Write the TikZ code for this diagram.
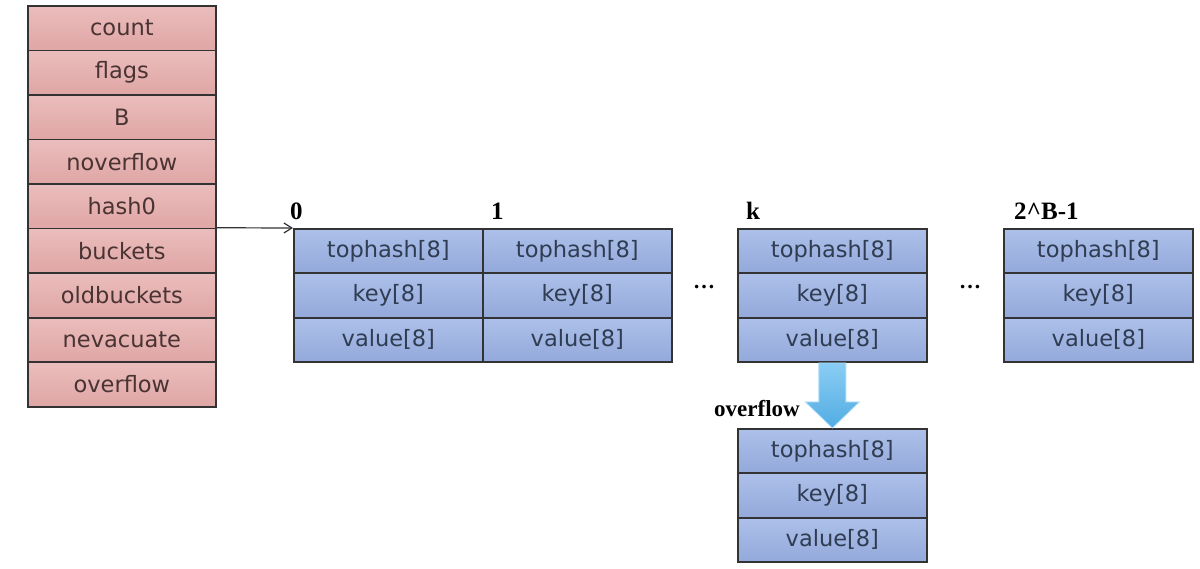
\documentclass[tikz,border=0pt]{standalone}
\usepackage{fontspec}
\setmainfont{DejaVu Sans}
\newfontfamily\lblfont{Liberation Serif}
\usetikzlibrary{arrows.meta,calc}
\definecolor{pinktop}{HTML}{EABDBC}
\definecolor{pinkbot}{HTML}{DFA6A5}
\definecolor{bluetop}{HTML}{ADC0EA}
\definecolor{bluebot}{HTML}{93A9DA}
\definecolor{pinktext}{HTML}{4A3333}
\definecolor{bluetext}{HTML}{2F3C52}
\definecolor{edge}{HTML}{333333}
\definecolor{arrowtop}{HTML}{8ACDF3}
\definecolor{arrowbot}{HTML}{52ACE3}
\begin{document}
\begin{tikzpicture}[x=1pt,y=-1pt,
  cell/.style={draw=edge, line width=1.7pt, inner sep=0pt, anchor=north west,
    font=\fontsize{22.5}{26}\selectfont},
  pcell/.style={cell, minimum width=188pt, minimum height=44.55pt,
    top color=pinktop, bottom color=pinkbot, text=pinktext},
  bcell/.style={cell, minimum width=189pt, minimum height=44.4pt,
    top color=bluetop, bottom color=bluebot, text=bluetext},
  idx/.style={font=\lblfont\bfseries\fontsize{25}{29}\selectfont, anchor=south west, inner sep=0pt},
  dots/.style={font=\lblfont\bfseries\fontsize{22}{26}\selectfont, inner sep=0pt}]
\useasboundingbox (0,0) rectangle (1200,568);
% header struct
\foreach \t [count=\i from 0] in {count,flags,B,noverflow,hash0,buckets,oldbuckets,nevacuate,overflow}{
  \node[pcell] (h\i) at (27,{5+44.55*\i}) {\t};
}
% buckets
\foreach \n/\x in {a/293,b/482,c/737,d/1003}{
  \node[bcell] (\n0) at (\x,228) {tophash[8]};
  \node[bcell] (\n1) at (\x,272.4) {key[8]};
  \node[bcell] (\n2) at (\x,316.8) {value[8]};
}
\node[bcell] (o0) at (737,428) {tophash[8]};
\node[bcell] (o1) at (737,472.4) {key[8]};
\node[bcell] (o2) at (737,516.8) {value[8]};
% index labels
\node[idx] (la) at (290,220) {0};
\node[idx] (lb) at (491,220) {1};
\node[idx] (lc) at (746,220) {k};
\node[idx] (ld) at (1014,220) {2\^{}B-1};
\node[dots] (da) at (704,287) {…};
\node[dots] (db) at (970,287) {…};
% pointer arrow
\draw[draw=edge, line width=1.2pt, -{Straight Barb[length=8pt,width=10pt]}] (h5.north east) -- (a0.north west);
% overflow block arrow
\path[draw=arrowtop!70!white, line width=0.8pt, top color=arrowtop, bottom color=arrowbot]
  ($(c2.south)+(-13.5,0)$) -- ($(c2.south)+(13.5,0)$) -- ($(c2.south)+(13.5,39)$)
  -- ($(c2.south)+(27,39)$) -- (o0.north) -- ($(c2.south)+(-27,39)$)
  -- ($(c2.south)+(-13.5,39)$) -- cycle;
\node[font=\lblfont\bfseries\fontsize{23}{27}\selectfont, inner sep=0pt, anchor=west] (ovl) at (714,409) {overflow};
\end{tikzpicture}
\end{document}
